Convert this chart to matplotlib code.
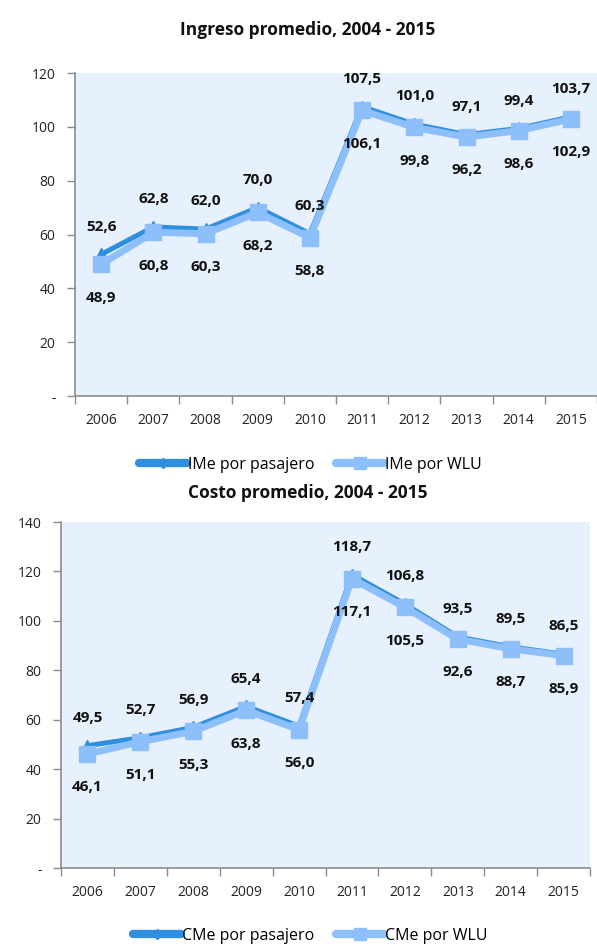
import matplotlib
matplotlib.use("Agg")
import matplotlib.pyplot as plt
from matplotlib.lines import Line2D

years = ["2006", "2007", "2008", "2009", "2010", "2011", "2012", "2013", "2014", "2015"]
ime_pasajero = [52.6, 62.8, 62.0, 70.0, 60.3, 107.5, 101.0, 97.1, 99.4, 103.7]
ime_wlu = [48.9, 60.8, 60.3, 68.2, 58.8, 106.1, 99.8, 96.2, 98.6, 102.9]
cme_pasajero = [49.5, 52.7, 56.9, 65.4, 57.4, 118.7, 106.8, 93.5, 89.5, 86.5]
cme_wlu = [46.1, 51.1, 55.3, 63.8, 56.0, 117.1, 105.5, 92.6, 88.7, 85.9]

FONT = ["Open Sans", "DejaVu Sans"]
plt.rcParams["font.family"] = FONT

DARK = "#2E8FE0"
LIGHT = "#8DC0FB"
BG = "#E7F0FD"
AXC = "#8C8C8C"

fig = plt.figure(figsize=(5.97, 9.47), dpi=100)


def fmt(v):
    return f"{v:.1f}".replace(".", ",")


def draw(ax, a, b, ymax, title, la, lb, title_y, legend_y):
    x = list(range(len(years)))
    ax.set_facecolor(BG)
    ax.plot(x, a, color=DARK, lw=3.6, marker="^", ms=9, mec=DARK, mfc=DARK,
            solid_capstyle="round", zorder=3, label=la)
    ax.plot(x, b, color=LIGHT, lw=5, marker="s", ms=12, mec=LIGHT, mfc=LIGHT,
            zorder=4, label=lb)
    for i in x:
        ax.annotate(fmt(a[i]), (i, a[i]), xytext=(0, 20), textcoords="offset points",
                    ha="center", va="center", fontsize=11, fontweight="bold",
                    color="#111111", zorder=5)
        ax.annotate(fmt(b[i]), (i, b[i]), xytext=(0, -24), textcoords="offset points",
                    ha="center", va="center", fontsize=11, fontweight="bold",
                    color="#111111", zorder=5)
    ax.set_xlim(-0.5, len(years) - 0.5)
    ax.set_ylim(0, ymax)
    ax.set_yticks(range(0, ymax + 1, 20))
    ax.set_yticklabels(["-"] + [str(v) for v in range(20, ymax + 1, 20)])
    ax.set_xticks(x)
    ax.set_xticklabels(years)
    ax.set_xticks([i - 0.5 for i in range(len(years) + 1)], minor=True)
    ax.tick_params(axis="x", which="major", length=0, pad=12, labelsize=10)
    ax.tick_params(axis="x", which="minor", length=6, color=AXC, width=1)
    ax.tick_params(axis="y", length=6, color=AXC, width=1, labelsize=10, pad=8)
    for s in ["top", "right"]:
        ax.spines[s].set_visible(False)
    for s in ["left", "bottom"]:
        ax.spines[s].set_color(AXC)
        ax.spines[s].set_linewidth(1.2)
    for lbl in ax.get_xticklabels() + ax.get_yticklabels():
        lbl.set_color("#222222")
    fig.text(0.515, title_y, title, ha="center", va="center", fontsize=12.5,
             fontweight="bold", color="#111111")
    h1 = Line2D([], [], color=DARK, lw=6, marker="D", ms=5, solid_capstyle="round")
    h2 = Line2D([], [], color=LIGHT, lw=6, marker="s", ms=9, solid_capstyle="round")
    fig.legend([h1, h2], [la, lb], loc="center", bbox_to_anchor=(0.52, legend_y), ncol=2,
               frameon=False, fontsize=11.5, handlelength=3.0, handletextpad=0.05,
               columnspacing=1.4)


ax1 = fig.add_axes([75 / 597, 1 - 396 / 947, (597 - 75) / 597, (396 - 73) / 947])
draw(ax1, ime_pasajero, ime_wlu, 120, "Ingreso promedio, 2004 - 2015",
     "IMe por pasajero", "IMe por WLU", 1 - 30 / 947, 1 - 465 / 947)

ax2 = fig.add_axes([61 / 597, 1 - 868 / 947, (590 - 61) / 597, (868 - 522) / 947])
draw(ax2, cme_pasajero, cme_wlu, 140, "Costo promedio, 2004 - 2015",
     "CMe por pasajero", "CMe por WLU", 1 - 493 / 947, 1 - 936 / 947)

fig.savefig("out.png", dpi=100)
